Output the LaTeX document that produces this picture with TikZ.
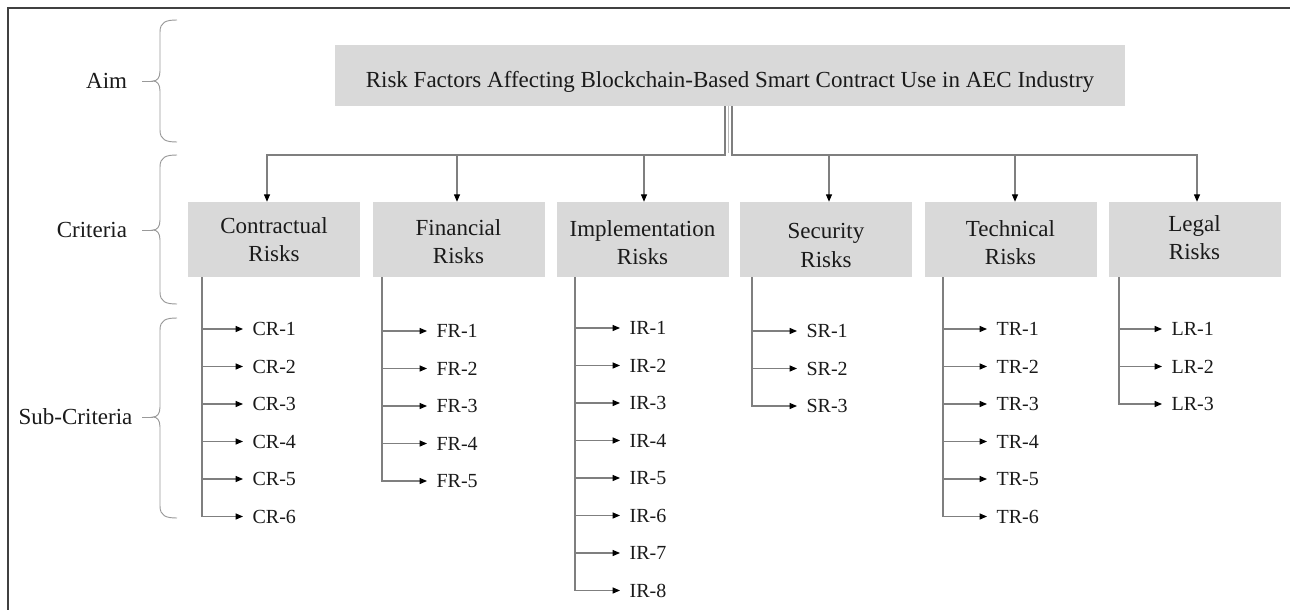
\documentclass[tikz,border=0pt]{standalone}
\usepackage{fontspec}
\setmainfont{Liberation Serif}
\usetikzlibrary{arrows.meta,calc}
\definecolor{boxgray}{HTML}{D9D9D9}
\definecolor{linegray}{HTML}{7F7F7F}
\definecolor{framegray}{HTML}{404040}
\definecolor{txt}{HTML}{1A1A1A}
\newcommand\mybrace[4]{%
  \draw[bracepath] (177,#1) .. controls (166,#1) and (160,{#1+2}) .. (160,{#1+12})
    -- (160,{#2-10}) .. controls (160,{#2-3}) and (157,#2) .. (153,#2)
    .. controls (157,#2) and (160,{#2+3}) .. (160,{#2+10})
    -- (160,{#3-12}) .. controls (160,{#3-2}) and (166,#3) .. (177,#3);
  \coordinate (#4) at (153,#2);}
\begin{document}
\begin{tikzpicture}[x=0.75pt,y=-0.75pt,
  every node/.style={text=txt},
  bigfont/.style={font=\fontsize{17.25}{21}\selectfont},
  smallfont/.style={font=\fontsize{15}{18}\selectfont},
  aimbox/.style={fill=boxgray, minimum width=592.5pt, minimum height=45.75pt, inner sep=0},
  critbox/.style={fill=boxgray, minimum width=129pt, minimum height=56.25pt, inner sep=0},
  crittext/.style={bigfont, align=center, anchor=base, inner sep=0},
  conn/.style={draw=linegray, line width=0.8pt},
  arr/.style={conn, -{Triangle[length=5.5pt,width=4.5pt,color=black]}},
  sublabel/.style={smallfont, anchor=west, inner xsep=7pt, inner ysep=0},
  lvl/.style={bigfont, anchor=east, inner xsep=11pt, inner ysep=0},
  bracepath/.style={draw=linegray!80, line width=0.7pt},
]
\useasboundingbox (0,0) rectangle (1290,610);
\fill[white] (0,0) rectangle (1290,610);
% frame
\draw[draw=framegray, line width=1.5pt] (7.5,610) -- (7.5,8.5) -- (1290,8.5);

% level labels and braces
\mybrace{20}{81}{142}{aimtip}
\mybrace{155}{230}{304}{crittip}
\mybrace{318}{417}{518}{subtip}
\node[lvl] (aiml) at (142,81) {Aim};
\node[lvl] (critl) at (142,230) {Criteria};
\node[lvl, inner xsep=7pt] (subl) at (142,417) {Sub-Criteria};
\draw[bracepath] (aiml.east) -- (aimtip);
\draw[bracepath] (critl.east) -- (crittip);
\draw[bracepath] (subl.east) -- (subtip);

% aim
\node[aimbox] (aim) at (730,75.5) {};
\node[bigfont, anchor=base, inner sep=0] (aimt) at (730,88) {Risk Factors Affecting Blockchain-Based Smart Contract Use in AEC Industry};

% criteria boxes
\node[critbox] (c1) at (274,239.5) {};
\node[critbox] (c2) at (458.5,239.5) {};
\node[critbox] (c3) at (642.5,239.5) {};
\node[critbox] (c4) at (826,239.5) {};
\node[critbox] (c5) at (1010.5,239.5) {};
\node[critbox] (c6) at (1194.5,239.5) {};
\node[crittext] (t1) at (274,261) {Contractual\\Risks};
\node[crittext] (t2) at (458.5,263) {Financial\\Risks};
\node[crittext] (t3) at (642.5,264) {Implementation\\Risks};
\node[crittext] (t4) at (826,267) {Security\\Risks};
\node[crittext] (t5) at (1010.5,264) {Technical\\Risks};
\node[crittext] (t6) at (1194.5,259) {Legal\\Risks};

% trunk
\coordinate (jL) at (725,155);
\coordinate (jR) at (732,155);
\coordinate (jM) at (728.5,153);
\coordinate (p1) at ($(c1.north)+(-7,0)$);
\coordinate (p2) at ($(c2.north)+(-1.5,0)$);
\coordinate (p3) at ($(c3.north)+(1.5,0)$);
\coordinate (p4) at ($(c4.north)+(3,0)$);
\coordinate (p5) at ($(c5.north)+(4.5,0)$);
\coordinate (p6) at ($(c6.north)+(2.5,0)$);
\draw[arr] ($(aim.south)+(-5,0)$) -- (jL) -| (p1);
\draw[arr] ($(aim.south)+(2,0)$) -- (jR) -| (p6);
\draw[draw=linegray!55, line width=1.2pt] ($(aim.south)+(-1.5,0)$) -- (jM);
\draw[arr] (p2 |- jL) -- (p2);
\draw[arr] (p3 |- jL) -- (p3);
\draw[arr] (p4 |- jR) -- (p4);
\draw[arr] (p5 |- jR) -- (p5);

% sub-criteria
\foreach \b/\vx/\ax/\yy/\p/\n in {c1/202/243/329/CR/6, c2/382/427/331/FR/5, c3/575/620/328/IR/8, c4/752/797/331/SR/3, c5/943/987/329/TR/6, c6/1119/1162/329/LR/3}{
  \path (\vx,0) coordinate (vtop);
  \foreach \i in {1,...,\n}{
    \node[sublabel] (\p\i) at (\ax,{\yy+37.5*(\i-1)}) {\p-\i};
  }
  \draw[arr] (\b.south -| vtop) |- (\p\n.west);
  \pgfmathtruncatemacro\m{\n-1}
  \foreach \i in {1,...,\m}{
    \draw[arr] (\p\i.west -| vtop) -- (\p\i.west);
  }
}
\end{tikzpicture}
\end{document}
